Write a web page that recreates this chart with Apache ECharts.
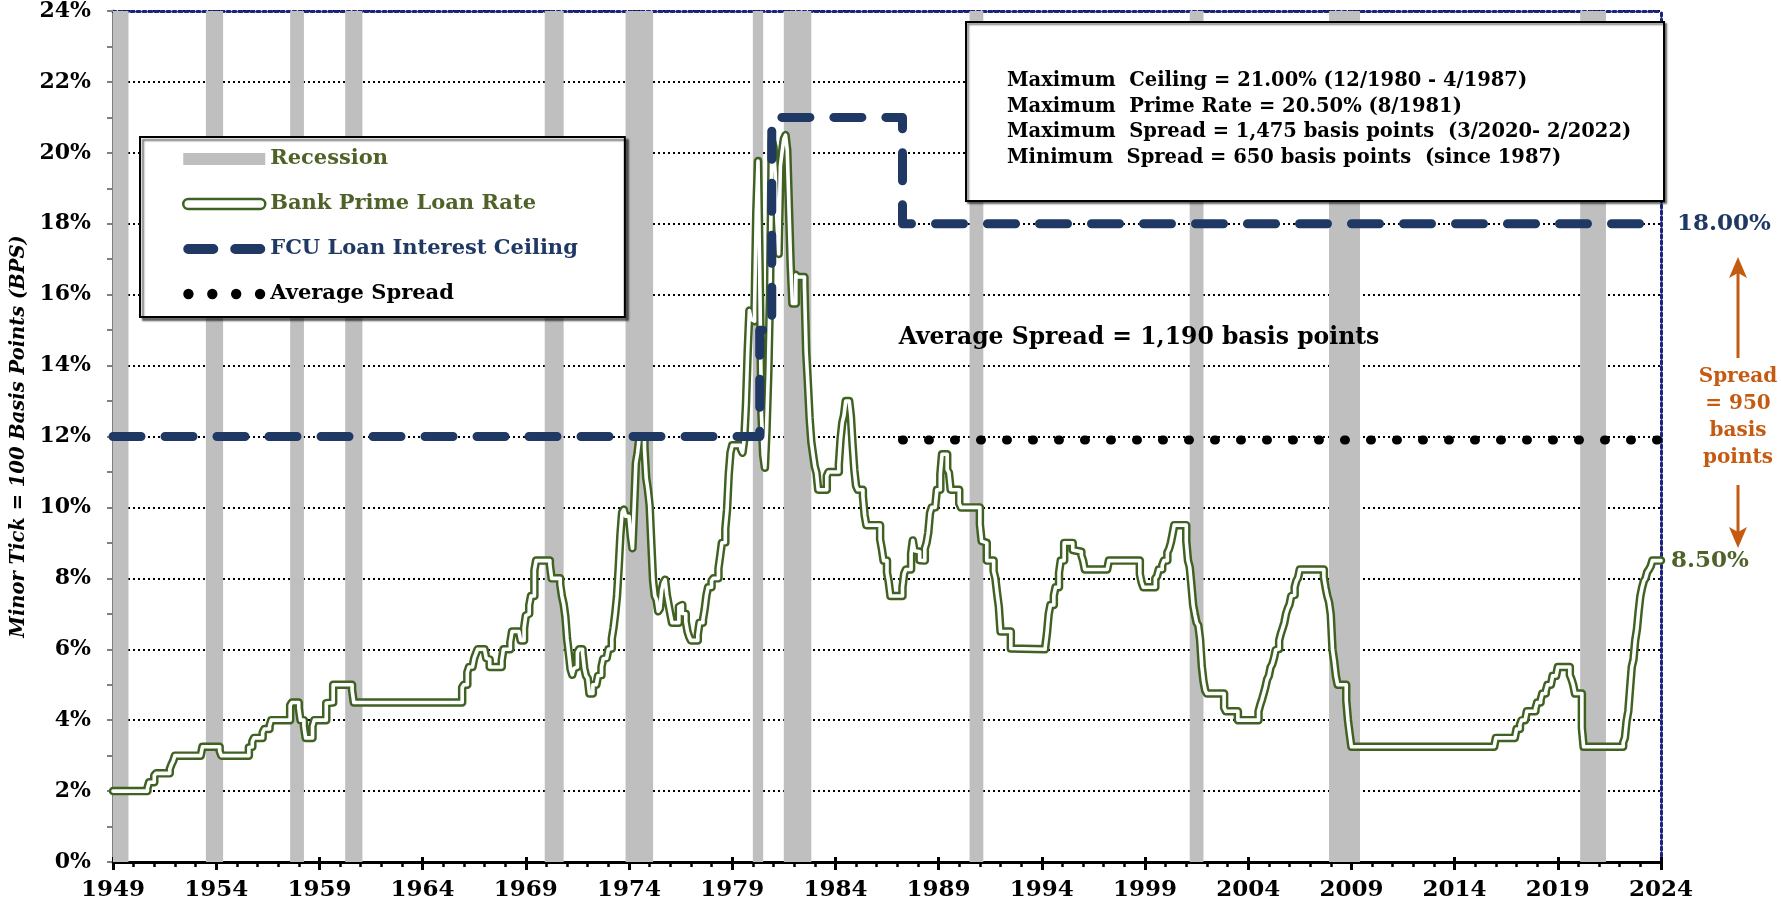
<!DOCTYPE html>
<html><head><meta charset="utf-8">
<script src="https://cdn.jsdelivr.net/npm/echarts@6/dist/echarts.min.js"></script>
<style>html,body{margin:0;padding:0;background:#fff}#c{width:1781px;height:902px}</style>
</head><body><div id="c"></div>
<script>
// ---------------- DATA ----------------
// Bank prime loan rate (monthly average, change points) [YYYY-MM, %]
const primeRate = [
['1949-01',2.00],
['1950-09',2.08],['1950-10',2.25],
['1951-01',2.44],['1951-02',2.50],['1951-10',2.62],['1951-11',2.75],['1951-12',2.85],['1952-01',3.00],
['1953-04',3.03],['1953-05',3.25],
['1954-03',3.13],['1954-04',3.00],
['1955-08',3.23],['1955-09',3.25],['1955-10',3.40],['1955-11',3.50],
['1956-04',3.65],['1956-05',3.75],['1956-08',3.84],['1956-09',4.00],
['1957-08',4.42],['1957-09',4.50],
['1958-01',4.34],['1958-02',4.00],['1958-04',3.83],['1958-05',3.50],['1958-09',3.83],['1958-10',4.00],
['1959-05',4.48],['1959-06',4.50],['1959-09',5.00],
['1960-08',4.85],['1960-09',4.50],
['1965-12',4.92],['1966-01',5.00],['1966-03',5.35],['1966-04',5.50],['1966-06',5.52],['1966-07',5.75],['1966-08',5.88],['1966-09',6.00],
['1967-01',5.96],['1967-02',5.75],['1967-03',5.71],['1967-04',5.50],['1967-11',5.68],['1967-12',6.00],
['1968-04',6.20],['1968-05',6.50],['1968-09',6.45],['1968-10',6.25],['1968-12',6.60],
['1969-01',6.95],['1969-02',7.00],['1969-03',7.24],['1969-04',7.50],['1969-06',8.23],['1969-07',8.50],
['1970-03',8.39],['1970-04',8.00],['1970-09',7.83],['1970-10',7.50],['1970-11',7.28],['1970-12',6.92],
['1971-01',6.29],['1971-02',5.88],['1971-03',5.44],['1971-04',5.28],['1971-05',5.46],['1971-06',5.50],['1971-07',5.91],['1971-08',6.00],['1971-10',5.91],['1971-11',5.47],['1971-12',5.25],
['1972-01',5.18],['1972-02',4.75],['1972-04',5.00],['1972-06',5.04],['1972-07',5.25],['1972-08',5.27],['1972-09',5.50],['1972-10',5.73],['1972-11',5.75],['1972-12',5.79],
['1973-01',6.00],['1973-02',6.02],['1973-03',6.30],['1973-04',6.61],['1973-05',7.01],['1973-06',7.49],['1973-07',8.30],['1973-08',9.23],['1973-09',9.86],['1973-10',9.94],['1973-11',9.75],
['1974-01',9.73],['1974-02',9.21],['1974-03',8.85],['1974-04',10.02],['1974-05',11.25],['1974-06',11.54],['1974-07',11.98],['1974-08',12.00],['1974-10',11.68],['1974-11',10.83],['1974-12',10.50],
['1975-01',10.05],['1975-02',8.96],['1975-03',7.93],['1975-04',7.50],['1975-05',7.40],['1975-06',7.07],['1975-07',7.15],['1975-08',7.66],['1975-09',7.88],['1975-10',7.96],['1975-11',7.53],['1975-12',7.26],
['1976-01',7.00],['1976-02',6.75],['1976-06',7.20],['1976-07',7.25],['1976-08',7.01],['1976-09',7.00],['1976-10',6.78],['1976-11',6.50],['1976-12',6.35],
['1977-01',6.25],['1977-05',6.41],['1977-06',6.75],['1977-08',6.83],['1977-09',7.13],['1977-10',7.52],['1977-11',7.75],
['1978-01',7.93],['1978-02',8.00],['1978-05',8.27],['1978-06',8.63],['1978-07',9.00],['1978-08',9.01],['1978-09',9.41],['1978-10',9.94],['1978-11',10.94],['1978-12',11.55],
['1979-01',11.75],['1979-06',11.65],['1979-07',11.54],['1979-08',11.91],['1979-09',12.90],['1979-10',14.39],['1979-11',15.55],['1979-12',15.30],
['1980-01',15.25],['1980-02',15.63],['1980-03',18.31],['1980-04',19.77],['1980-05',16.57],['1980-06',12.63],['1980-07',11.48],['1980-08',11.12],['1980-09',12.23],['1980-10',13.79],['1980-11',16.06],['1980-12',20.35],
['1981-01',20.16],['1981-02',19.43],['1981-03',18.05],['1981-04',17.15],['1981-05',19.61],['1981-06',20.03],['1981-07',20.39],['1981-08',20.50],['1981-09',20.08],['1981-10',18.45],['1981-11',16.84],['1981-12',15.75],
['1982-02',16.56],['1982-03',16.50],['1982-07',16.26],['1982-08',14.39],['1982-09',13.50],['1982-10',12.52],['1982-11',11.85],['1982-12',11.50],
['1983-01',11.16],['1983-02',10.98],['1983-03',10.50],['1983-08',10.89],['1983-09',11.00],
['1984-03',11.21],['1984-04',11.93],['1984-05',12.39],['1984-06',12.60],['1984-07',13.00],['1984-09',12.97],['1984-10',12.58],['1984-11',11.77],['1984-12',11.06],
['1985-01',10.61],['1985-02',10.50],['1985-05',10.31],['1985-06',9.78],['1985-07',9.50],
['1986-03',9.10],['1986-04',8.83],['1986-05',8.50],['1986-07',8.16],['1986-08',7.90],['1986-09',7.50],
['1987-04',7.75],['1987-05',8.14],['1987-06',8.25],['1987-09',8.70],['1987-10',9.07],['1987-11',8.78],['1987-12',8.75],
['1988-02',8.51],['1988-03',8.50],['1988-05',8.84],['1988-06',9.00],['1988-07',9.29],['1988-08',9.84],['1988-09',10.00],['1988-11',10.05],['1988-12',10.50],
['1989-02',10.93],['1989-03',11.50],['1989-06',11.07],['1989-07',10.98],['1989-08',10.50],
['1990-01',10.11],['1990-02',10.00],
['1991-01',9.52],['1991-02',9.05],['1991-03',9.00],['1991-05',8.50],['1991-09',8.20],['1991-10',8.00],['1991-11',7.58],['1991-12',7.21],
['1992-01',6.50],['1992-07',6.02],['1992-08',6.00],
['1994-03',6.06],['1994-04',6.45],['1994-05',6.99],['1994-06',7.25],['1994-08',7.51],['1994-09',7.75],['1994-11',8.15],['1994-12',8.50],
['1995-02',9.00],['1995-07',8.80],['1995-08',8.75],['1995-12',8.65],
['1996-01',8.50],['1996-02',8.25],
['1997-03',8.30],['1997-04',8.50],
['1998-10',8.12],['1998-11',7.89],['1998-12',7.75],
['1999-07',8.00],['1999-08',8.06],['1999-09',8.25],['1999-11',8.37],['1999-12',8.50],
['2000-02',8.73],['2000-03',8.83],['2000-04',9.00],['2000-05',9.24],['2000-06',9.50],
['2001-01',9.05],['2001-02',8.50],['2001-03',8.32],['2001-04',7.80],['2001-05',7.24],['2001-06',6.98],['2001-07',6.75],['2001-08',6.67],['2001-09',6.28],['2001-10',5.53],['2001-11',5.10],['2001-12',4.84],
['2002-01',4.75],['2002-11',4.35],['2002-12',4.25],
['2003-07',4.00],
['2004-07',4.25],['2004-08',4.43],['2004-09',4.58],['2004-10',4.75],['2004-11',4.93],['2004-12',5.15],
['2005-01',5.25],['2005-02',5.49],['2005-03',5.58],['2005-04',5.75],['2005-05',5.98],['2005-06',6.01],['2005-07',6.25],['2005-08',6.44],['2005-09',6.59],['2005-10',6.75],['2005-11',7.00],['2005-12',7.15],
['2006-01',7.26],['2006-02',7.50],['2006-03',7.53],['2006-04',7.75],['2006-05',7.93],['2006-06',8.02],['2006-07',8.25],
['2007-09',8.03],['2007-10',7.74],['2007-11',7.50],['2007-12',7.33],
['2008-01',6.98],['2008-02',6.00],['2008-03',5.66],['2008-04',5.24],['2008-05',5.00],['2008-10',4.56],['2008-11',4.00],['2008-12',3.61],
['2009-01',3.25],
['2015-12',3.29],['2016-01',3.50],['2016-12',3.54],['2017-01',3.75],['2017-03',3.88],['2017-04',4.00],['2017-06',4.05],['2017-07',4.25],['2017-12',4.32],
['2018-01',4.50],['2018-03',4.57],['2018-04',4.75],['2018-06',4.82],['2018-07',5.00],['2018-09',5.03],['2018-10',5.25],['2018-12',5.28],['2019-01',5.50],
['2019-08',5.27],['2019-09',5.15],['2019-10',4.99],['2019-11',4.75],
['2020-03',3.78],['2020-04',3.25],
['2022-03',3.37],['2022-04',3.50],['2022-05',3.98],['2022-06',4.26],['2022-07',4.89],['2022-08',5.50],['2022-09',5.71],['2022-10',6.25],['2022-11',6.56],['2022-12',7.07],
['2023-01',7.50],['2023-02',7.74],['2023-03',7.92],['2023-04',8.00],['2023-05',8.18],['2023-06',8.25],['2023-07',8.34],['2023-08',8.50],
['2024-01',8.50]
];
// FCU loan interest ceiling
const ceilingDates  = ['1949-01','1980-05','1980-05','1980-12','1980-12','1987-04','1987-04','2024-01'];
const ceilingValues = [12, 12, 15, 15, 21, 21, 18, 18];
// Average spread reference line
const spreadDates  = ['1987-04','2024-01'];
const spreadValues = [11.9, 11.9];
// Recessions (start, end)
const recessionStart = ['1949-01','1953-07','1957-08','1960-04','1969-12','1973-11','1980-01','1981-07','1990-07','2001-03','2007-12','2020-02'];
const recessionEnd   = ['1949-10','1954-05','1958-04','1961-02','1970-11','1975-03','1980-07','1982-11','1991-03','2001-11','2009-06','2021-05'];
// Axis
const xMin = 1949, xMax = 2024, xStep = 5;
const yMin = 0, yMax = 24, yStep = 2;
// Texts
const infoLines = [
  'Maximum  Ceiling = 21.00% (12/1980 - 4/1987)',
  'Maximum  Prime Rate = 20.50% (8/1981)',
  'Maximum  Spread = 1,475 basis points  (3/2020- 2/2022)',
  'Minimum  Spread = 650 basis points  (since 1987)'
];
const spreadNote = ['Spread', '= 950', 'basis', 'points'];

// ---------------- CHART ----------------
const toYear = s => { const [y, m] = s.split('-').map(Number); return y + (m - 1) / 12; };
const primeData = primeRate.map(d => [toYear(d[0]), d[1]]);
const ceilingData = ceilingDates.map((d, i) => [toYear(d), ceilingValues[i]]);
const spreadData = spreadDates.map((d, i) => [toYear(d), spreadValues[i]]);
const recessionData = recessionStart.map((d, i) => [toYear(d), toYear(recessionEnd[i])]);

const GREEN = '#3f6122', GREEN_T = '#4f6228', NAVY = '#1f3864', ORANGE = '#c55a11', GRAY = '#bfbfbf';
const FONT = '"DejaVu Serif"';

const chart = echarts.init(document.getElementById('c'), null, {renderer: 'canvas'});
const option = {
  animation: false,
  backgroundColor: '#fff',
  grid: {left: 113, right: 120, top: 11, bottom: 40, containLabel: false},
  xAxis: [{
    type: 'value', min: xMin, max: xMax, interval: xStep,
    axisLine: {show: true, onZero: false, lineStyle: {color: '#000', width: 3}},
    axisTick: {show: true, length: 8, lineStyle: {color: '#000', width: 3}},
    minorTick: {show: true, splitNumber: 5, length: 5, lineStyle: {color: '#000', width: 2.5}},
    axisLabel: {margin: 17, color: '#000', fontFamily: FONT, fontWeight: 'bold', fontSize: 23, formatter: v => String(v)},
    splitLine: {show: false}
  }, {
    type: 'value', min: xMin, max: xMax, position: 'top',
    axisLine: {show: true, onZero: false, lineStyle: {color: '#1a237e', width: 3, type: [3, 3]}},
    axisTick: {show: false}, axisLabel: {show: false}, splitLine: {show: false}
  }, {
    type: 'value', min: xMin, max: xMax, interval: xStep, position: 'bottom',
    axisLine: {show: false, onZero: false},
    axisTick: {show: true, inside: true, length: 5, lineStyle: {color: '#000', width: 3}},
    axisLabel: {show: false}, splitLine: {show: false}
  }],
  yAxis: [{
    type: 'value', min: yMin, max: yMax, interval: yStep,
    name: 'Minor Tick = 100 Basis Points (BPS)', nameLocation: 'middle', nameGap: 84,
    nameTextStyle: {fontFamily: FONT, fontStyle: 'italic', fontWeight: 'bold', fontSize: 19.5, color: '#000'},
    axisLine: {show: true, lineStyle: {color: '#808080', width: 3}},
    axisTick: {show: true, length: 6, lineStyle: {color: '#808080', width: 2}},
    minorTick: {show: true, splitNumber: 2, length: 6, lineStyle: {color: '#808080', width: 2}},
    axisLabel: {margin: 22, color: '#000', fontFamily: FONT, fontWeight: 'bold', fontSize: 22, formatter: '{value}%'},
    splitLine: {show: true, lineStyle: {color: '#000', width: 2, type: [2, 3]}}
  }, {
    type: 'value', min: yMin, max: yMax, position: 'right',
    axisLine: {show: true, lineStyle: {color: '#1a237e', width: 3, type: [3, 3]}},
    axisTick: {show: false}, axisLabel: {show: false}, splitLine: {show: false}
  }],
  legend: {
    show: true, orient: 'vertical', left: 140, top: 137, z: 60,
    backgroundColor: '#fff', borderColor: '#000', borderWidth: 2,
    shadowColor: 'rgba(0,0,0,0.55)', shadowBlur: 2, shadowOffsetX: 3, shadowOffsetY: 3,
    padding: [10, 47, 11, 42], itemGap: 21, itemWidth: 82, itemHeight: 12,
    selectedMode: false,
    textStyle: {fontFamily: FONT, fontWeight: 'bold', fontSize: 21, lineHeight: 24},
    data: [
      {name: 'Recession', icon: 'rect', itemStyle: {color: GRAY, borderWidth: 0}, textStyle: {color: GREEN_T}},
      {name: 'Bank Prime Loan Rate', icon: 'path://M5,0 H77 A5,5 0 0 1 77,10 H5 A5,5 0 0 1 5,0 Z',
       itemStyle: {color: '#fff', borderColor: GREEN, borderWidth: 2.5}, textStyle: {color: GREEN_T}},
      {name: 'FCU Loan Interest Ceiling', icon: 'path://M5,0 H30 A5,5 0 0 1 30,10 H5 A5,5 0 0 1 5,0 Z M52,0 H77 A5,5 0 0 1 77,10 H52 A5,5 0 0 1 52,0 Z',
       itemStyle: {color: NAVY, borderWidth: 0}, textStyle: {color: NAVY}},
      {name: 'Average Spread', icon: 'path://M0,5 A5,5 0 1 0 10,5 A5,5 0 1 0 0,5 Z M23,5 A5,5 0 1 0 33,5 A5,5 0 1 0 23,5 Z M46,5 A5,5 0 1 0 56,5 A5,5 0 1 0 46,5 Z M69,5 A5,5 0 1 0 79,5 A5,5 0 1 0 69,5 Z',
       itemStyle: {color: '#000', borderWidth: 0}, textStyle: {color: '#000'}}
    ]
  },
  series: [
    {
      name: 'Recession', type: 'custom', z: 1, silent: true,
      data: recessionData,
      encode: {x: [0, 1]},
      itemStyle: {color: GRAY},
      renderItem: (params, api) => {
        const a = api.coord([api.value(0), yMax]);
        const b = api.coord([api.value(1), yMin]);
        return {type: 'rect', shape: {x: a[0], y: a[1], width: b[0] - a[0], height: b[1] - a[1]}, style: {fill: GRAY}};
      }
    },
    {
      name: 'Bank Prime Loan Rate', type: 'line', step: 'end', z: 3, silent: true,
      data: primeData, showSymbol: false, symbol: 'none',
      lineStyle: {color: GREEN, width: 8.5, join: 'round', cap: 'round'},
      itemStyle: {color: GREEN},
      endLabel: {show: true, formatter: '8.50%', color: GREEN_T, fontFamily: FONT, fontWeight: 'bold', fontSize: 23, distance: 10}
    },
    {
      name: 'primeInner', type: 'line', step: 'end', z: 4, silent: true,
      data: primeData, showSymbol: false, symbol: 'none',
      lineStyle: {color: '#fff', width: 3.6, join: 'round', cap: 'round'}
    },
    {
      name: 'Average Spread', type: 'line', z: 5, silent: true,
      data: spreadData, showSymbol: false, symbol: 'none',
      lineStyle: {color: '#000', width: 9, type: [1, 25], cap: 'round'},
      itemStyle: {color: '#000'}
    },
    {
      name: 'FCU Loan Interest Ceiling', type: 'line', z: 6, silent: true,
      data: ceilingData, showSymbol: false, symbol: 'none',
      lineStyle: {color: NAVY, width: 9, type: [28, 24], cap: 'round', join: 'round'},
      itemStyle: {color: NAVY},
      endLabel: {show: true, formatter: '18.00%', color: NAVY, fontFamily: FONT, fontWeight: 'bold', fontSize: 23, distance: 16}
    }
  ],
  graphic: [
    {type: 'rect', z: 50, shape: {x: 966, y: 22, width: 698, height: 179},
     style: {fill: '#fff', stroke: '#000', lineWidth: 2, shadowBlur: 2, shadowColor: 'rgba(0,0,0,0.5)', shadowOffsetX: 2, shadowOffsetY: 2}},
    ...infoLines.map((t, i) => ({type: 'text', z: 51, x: 1007, y: 81 + i * 25.5,
      style: {text: t, fill: '#000', font: 'bold 19.5px ' + FONT, verticalAlign: 'middle', align: 'left'}})),
    {type: 'text', z: 51, x: 1139, y: 338,
     style: {text: 'Average Spread = 1,190 basis points', fill: '#000', font: 'bold 23.5px ' + FONT, verticalAlign: 'middle', align: 'center'}},
    // orange arrows
    {type: 'line', z: 51, shape: {x1: 1738, y1: 358, x2: 1738, y2: 270}, style: {stroke: ORANGE, lineWidth: 3}},
    {type: 'polygon', z: 51, shape: {points: [[1738, 257], [1729, 278], [1738, 273], [1747, 278]]}, style: {fill: ORANGE}},
    {type: 'line', z: 51, shape: {x1: 1738, y1: 485, x2: 1738, y2: 535}, style: {stroke: ORANGE, lineWidth: 3}},
    {type: 'polygon', z: 51, shape: {points: [[1738, 548], [1729, 527], [1738, 532], [1747, 527]]}, style: {fill: ORANGE}},
    ...spreadNote.map((t, i) => ({type: 'text', z: 51, x: 1738, y: 377 + i * 27,
      style: {text: t, fill: ORANGE, font: 'bold 20px ' + FONT, verticalAlign: 'middle', align: 'center'}}))
  ]
};
chart.setOption(option);
</script>
</body></html>
